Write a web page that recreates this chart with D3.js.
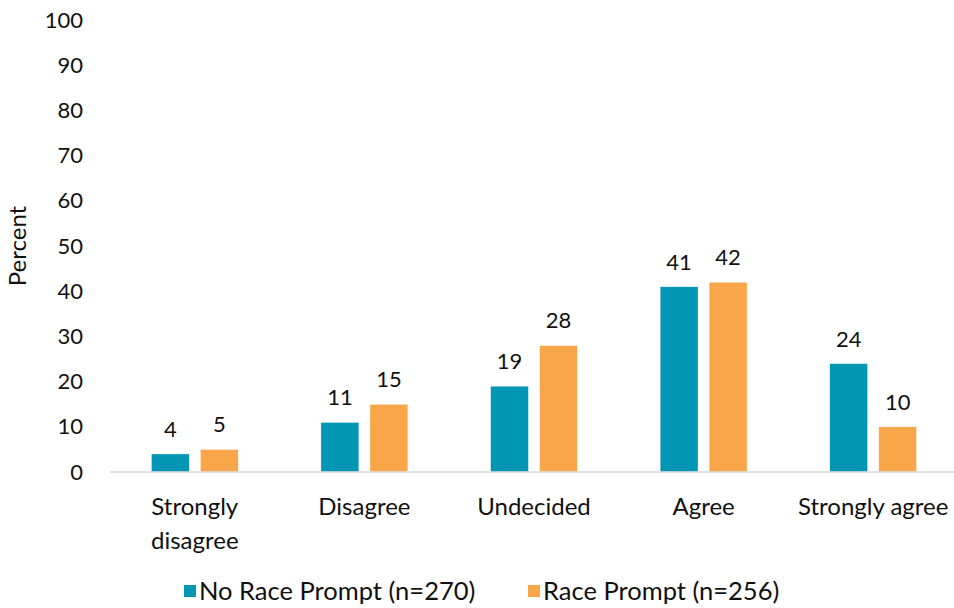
<!DOCTYPE html>
<html>
<head>
<meta charset="utf-8">
<script src="https://cdn.jsdelivr.net/npm/d3@7.9.0/dist/d3.min.js"></script>
<style>
  body { margin: 0; background: #fff; }
  text { font-family: Lato, "Open Sans", sans-serif; fill: #111; }
</style>
</head>
<body>
<div id="chart"></div>
<script>
// chart data
const categories = ["Strongly disagree", "Disagree", "Undecided", "Agree", "Strongly agree"];
const seriesNames = ["No Race Prompt (n=270)", "Race Prompt (n=256)"];
const noPrompt = [4, 11, 19, 41, 24];
const racePrompt = [5, 15, 28, 42, 10];
const yTicks = [0, 10, 20, 30, 40, 50, 60, 70, 80, 90, 100];
const colors = ["#0096B4", "#F9A54A"];

const width = 954, height = 608;
const margin = { top: 20, right: 0, bottom: 136, left: 110 };
const plotRight = 958;

const svg = d3.select("#chart").append("svg")
    .attr("width", width)
    .attr("height", height);

const x = d3.scaleBand()
    .domain(categories)
    .range([margin.left, plotRight]);

// two bars of 38px with an 11px gap, centred in each category
const barW = 38, barGap = 11;
const pairW = barW * 2 + barGap;
const xInner = d3.scaleBand()
    .domain(seriesNames)
    .range([(x.bandwidth() - pairW) / 2, (x.bandwidth() + pairW) / 2])
    .paddingInner(barGap / (barW + barGap))
    .paddingOuter(0);

const y = d3.scaleLinear()
    .domain([0, 100])
    .range([height - margin.bottom, margin.top]);

// y axis labels (no line)
const yAxis = svg.append("g")
    .attr("transform", `translate(${margin.left}, 0)`)
    .call(d3.axisLeft(y).tickValues(yTicks).tickSize(0).tickPadding(27));
yAxis.select(".domain").remove();
yAxis.selectAll("text")
    .style("font-size", "22px")
    .style("font-family", "Lato, 'Open Sans', sans-serif")
    .attr("fill", "#111");

svg.append("text")
    .attr("transform", `translate(26, ${y(50)}) rotate(-90)`)
    .attr("text-anchor", "middle")
    .style("font-size", "24px")
    .text("Percent");

// bars
const rows = categories.map((c, i) => ({ cat: c, vals: [noPrompt[i], racePrompt[i]] }));

const groups = svg.append("g").selectAll("g")
    .data(rows)
    .join("g")
    .attr("transform", d => `translate(${x(d.cat)}, 0)`);

groups.selectAll("rect")
    .data(d => d.vals.map((v, j) => ({ s: seriesNames[j], v, j })))
    .join("rect")
    .attr("x", d => xInner(d.s))
    .attr("width", xInner.bandwidth())
    .attr("y", d => y(d.v))
    .attr("height", d => y(0) - y(d.v))
    .attr("fill", d => colors[d.j])
    .attr("stroke", "#fff")
    .attr("stroke-width", 0.5);

groups.selectAll("text.val")
    .data(d => d.vals.map((v, j) => ({ s: seriesNames[j], v, j })))
    .join("text")
    .attr("class", "val")
    .attr("x", d => xInner(d.s) + xInner.bandwidth() / 2)
    .attr("y", d => y(d.v) - 17)
    .attr("text-anchor", "middle")
    .style("font-size", "22px")
    .text(d => d.v);

// baseline
svg.append("line")
    .attr("x1", margin.left)
    .attr("x2", plotRight)
    .attr("y1", y(0))
    .attr("y2", y(0))
    .attr("stroke", "#d9d9d9")
    .attr("stroke-width", 1.5);

// category labels
const catLines = { "Strongly disagree": ["Strongly", "disagree"] };
svg.append("g").selectAll("text")
    .data(categories)
    .join("text")
    .attr("x", d => x(d) + x.bandwidth() / 2)
    .attr("y", y(0) + 43)
    .attr("text-anchor", "middle")
    .style("font-size", "24px")
    .each(function(d) {
        const lines = catLines[d] || [d];
        d3.select(this).selectAll("tspan")
            .data(lines)
            .join("tspan")
            .attr("x", x(d) + x.bandwidth() / 2)
            .attr("dy", (l, i) => i === 0 ? 0 : 34)
            .text(l => l);
    });

// legend
const legendItems = [
    { name: seriesNames[0], color: colors[0], x: 184 },
    { name: seriesNames[1], color: colors[1], x: 528 }
];
const legend = svg.append("g");
legend.selectAll("rect")
    .data(legendItems)
    .join("rect")
    .attr("x", d => d.x)
    .attr("y", 585)
    .attr("width", 12)
    .attr("height", 12)
    .attr("fill", d => d.color);
legend.selectAll("text")
    .data(legendItems)
    .join("text")
    .attr("x", d => d.x + 15)
    .attr("y", 600)
    .style("font-size", "25.5px")
    .text(d => d.name);
</script>
</body>
</html>
